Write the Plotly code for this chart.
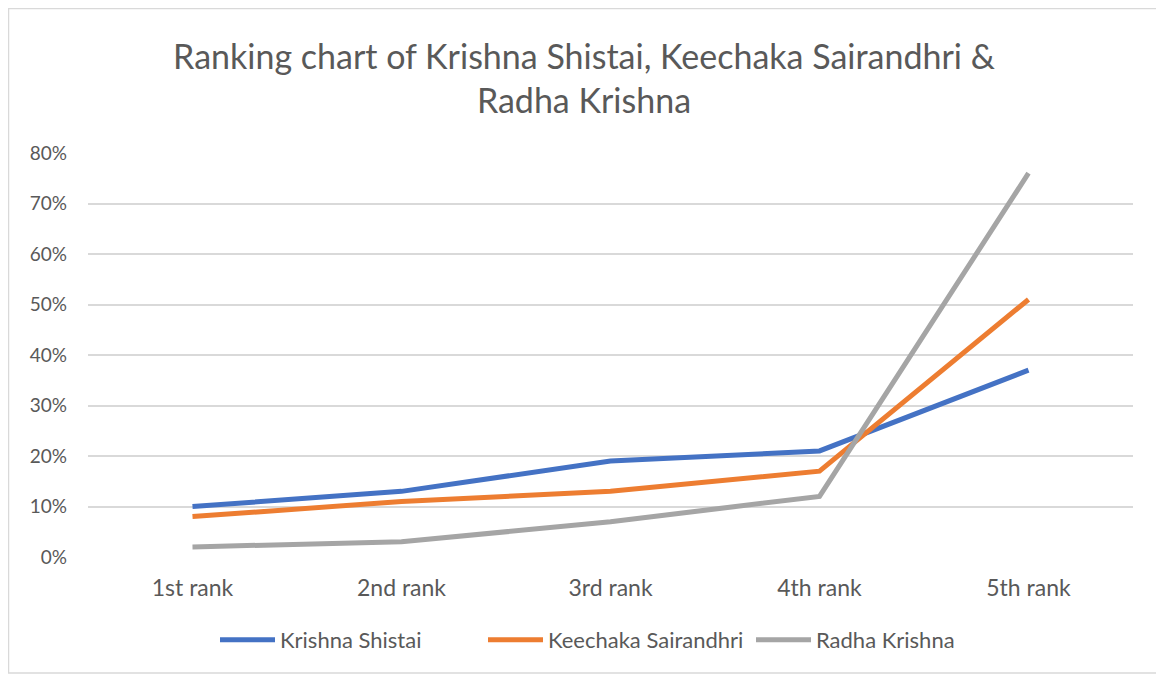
import plotly.graph_objects as go

categories = ["1st rank", "2nd rank", "3rd rank", "4th rank", "5th rank"]
krishna_shistai = [0.10, 0.13, 0.19, 0.21, 0.37]
keechaka_sairandhri = [0.08, 0.11, 0.13, 0.17, 0.51]
radha_krishna = [0.02, 0.03, 0.07, 0.12, 0.76]
y_ticks = [0, 0.1, 0.2, 0.3, 0.4, 0.5, 0.6, 0.7, 0.8]

series = [
    ("Krishna Shistai", krishna_shistai, "#4472C4"),
    ("Keechaka Sairandhri", keechaka_sairandhri, "#ED7D31"),
    ("Radha Krishna", radha_krishna, "#A5A5A5"),
]

FONT = "Lato, Carlito, 'Open Sans', sans-serif"
TXT = "#595959"

fig = go.Figure()
for name, vals, color in series:
    fig.add_trace(go.Scatter(
        x=categories, y=vals, name=name, mode="lines",
        line=dict(color=color, width=5),
    ))

# page body has an 8px margin, so figure pixel = reference pixel - 8
W, H = 1156, 669
L, R, T, B = 80, 31, 145, 120
pw, ph = W - L - R, H - T - B

def px2paper_x(px):
    return (px - L) / pw

def px2paper_y(py):
    return (H - B - py) / ph

fig.update_layout(
    width=W, height=H,
    margin=dict(l=L, r=R, t=T, b=B, autoexpand=False),
    paper_bgcolor="white", plot_bgcolor="white",
    font=dict(family=FONT, color=TXT, size=17),
    title=dict(
        text="Ranking chart of Krishna Shistai, Keechaka Sairandhri &<br>Radha Krishna",
        x=576 / W, xanchor="center", xref="container",
        y=1 - 61 / H, yanchor="top", yref="container",
        font=dict(family=FONT, size=34, color=TXT),
    ),
    xaxis=dict(
        type="category", range=[-0.5, 4.5],
        showgrid=False, showline=False, zeroline=False,
        ticks="", tickfont=dict(size=23, color=TXT),
        ticklabelstandoff=15,
    ),
    yaxis=dict(
        range=[0, 0.8], tickvals=y_ticks, tickformat=".0%",
        showgrid=True, gridcolor="#D9D9D9", gridwidth=1.5,
        zeroline=False, showline=False, ticks="",
        tickfont=dict(size=19, color=TXT),
        ticklabelstandoff=20,
    ),
    legend=dict(
        orientation="h", x=207 / W, xref="container", xanchor="left",
        y=1 - 611 / H, yref="container", yanchor="top",
        font=dict(size=22, color=TXT), itemwidth=55,
        entrywidth=198, entrywidthmode="pixels",
        traceorder="normal",
    ),
    showlegend=True,
    shapes=[dict(
        type="rect", xref="paper", yref="paper",
        x0=px2paper_x(0.5), x1=px2paper_x(1153),
        y0=px2paper_y(665), y1=px2paper_y(0.5),
        line=dict(color="#D9D9D9", width=1.5), fillcolor="rgba(0,0,0,0)",
        layer="below",
    )],
)

fig.write_html("out.html")
